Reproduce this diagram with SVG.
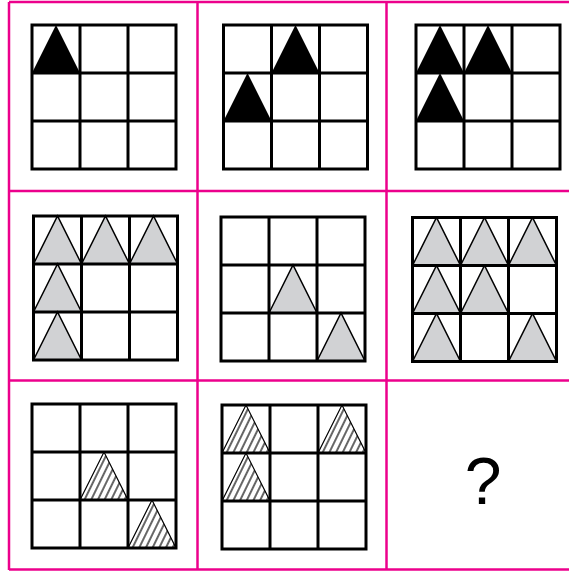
<svg xmlns="http://www.w3.org/2000/svg" xmlns:xlink="http://www.w3.org/1999/xlink" width="569" height="575" viewBox="0 0 569 575">
<style>
.frame{stroke:#EC008C;stroke-width:2.5;fill:none}
.grid{stroke:#000;stroke-width:3;fill:none}
.blk{fill:#000}
.gry{fill:#D1D2D4;stroke:#000;stroke-width:1.5;stroke-linejoin:miter}
.hat{fill:url(#hatch);stroke:#000;stroke-width:1.2}
.q{font-family:"Liberation Sans",Arial,sans-serif;font-size:66px;fill:#000}
</style>
<defs>
<pattern id="hatch" patternUnits="userSpaceOnUse" width="6" height="10" patternTransform="rotate(26)">
<line x1="1" y1="0" x2="1" y2="10" stroke="#000" stroke-width="1.2"/>
</pattern>
<path id="tri" d="M0 48 L24 0 L48 48 Z"/>
<g id="g3">
<rect x="0" y="0" width="144" height="144"/>
<line x1="48" y1="0" x2="48" y2="144"/>
<line x1="96" y1="0" x2="96" y2="144"/>
<line x1="0" y1="48" x2="144" y2="48"/>
<line x1="0" y1="96" x2="144" y2="96"/>
</g>
</defs>
<rect width="569" height="575" fill="#fff"/>
<g id="frame" class="frame">
<line x1="9" y1="2" x2="9" y2="570"/>
<line x1="197.5" y1="2" x2="197.5" y2="570"/>
<line x1="386.5" y1="2" x2="386.5" y2="570"/>
<line x1="9" y1="2" x2="575" y2="2"/>
<line x1="9" y1="191" x2="575" y2="191"/>
<line x1="9" y1="380.5" x2="575" y2="380.5"/>
<line x1="9" y1="569.5" x2="575" y2="569.5"/>
</g>
<g id="panel1" transform="translate(32,25)">
<use href="#tri" class="blk" x="0" y="0"/>
<use href="#g3" class="grid"/>
</g>
<g id="panel2" transform="translate(223.5,25)">
<use href="#tri" class="blk" x="48" y="0"/>
<use href="#tri" class="blk" x="0" y="48"/>
<use href="#g3" class="grid"/>
</g>
<g id="panel3" transform="translate(416,25)">
<use href="#tri" class="blk" x="0" y="0"/>
<use href="#tri" class="blk" x="48" y="0"/>
<use href="#tri" class="blk" x="0" y="48"/>
<use href="#g3" class="grid"/>
</g>
<g id="panel4" transform="translate(33.5,216)">
<use href="#tri" class="gry" x="0" y="0"/>
<use href="#tri" class="gry" x="48" y="0"/>
<use href="#tri" class="gry" x="96" y="0"/>
<use href="#tri" class="gry" x="0" y="48"/>
<use href="#tri" class="gry" x="0" y="96"/>
<use href="#g3" class="grid"/>
</g>
<g id="panel5" transform="translate(221,217)">
<use href="#tri" class="gry" x="48" y="48"/>
<use href="#tri" class="gry" x="96" y="96"/>
<use href="#g3" class="grid"/>
</g>
<g id="panel6" transform="translate(412.5,217.5)">
<use href="#tri" class="gry" x="0" y="0"/>
<use href="#tri" class="gry" x="48" y="0"/>
<use href="#tri" class="gry" x="96" y="0"/>
<use href="#tri" class="gry" x="0" y="48"/>
<use href="#tri" class="gry" x="48" y="48"/>
<use href="#tri" class="gry" x="0" y="96"/>
<use href="#tri" class="gry" x="96" y="96"/>
<use href="#g3" class="grid"/>
</g>
<g id="panel7" transform="translate(32,404)">
<use href="#tri" class="hat" x="48" y="48"/>
<use href="#tri" class="hat" x="96" y="96"/>
<use href="#g3" class="grid"/>
</g>
<g id="panel8" transform="translate(222,405)">
<use href="#tri" class="hat" x="0" y="0"/>
<use href="#tri" class="hat" x="96" y="0"/>
<use href="#tri" class="hat" x="0" y="48"/>
<use href="#g3" class="grid"/>
</g>
<g id="panel9">
<text class="q" x="483" y="504" text-anchor="middle">?</text>
</g>
<g id="connectors"/>
</svg>
